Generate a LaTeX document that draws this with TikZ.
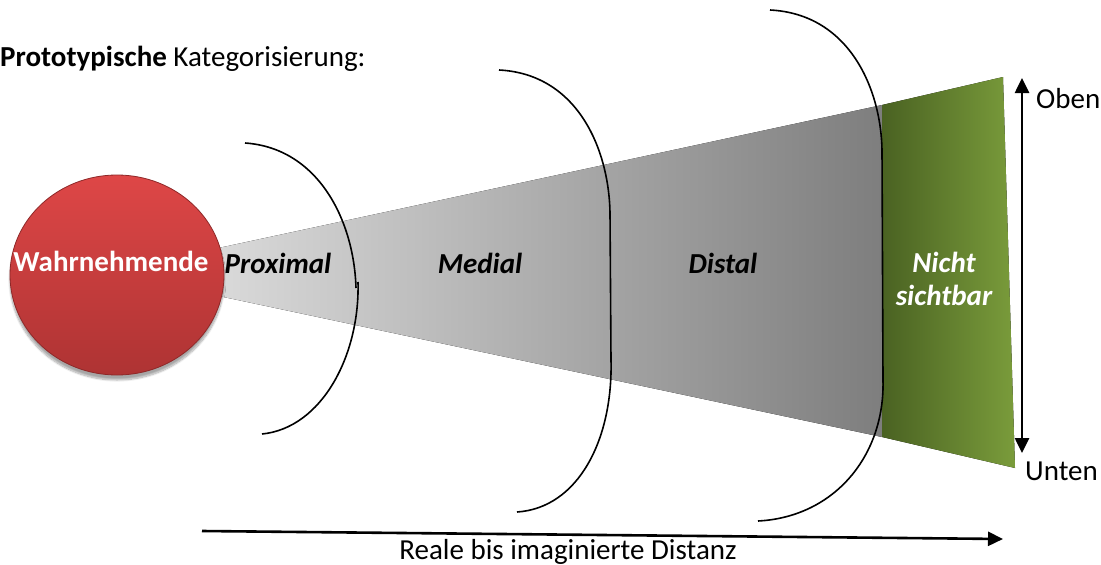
\documentclass[tikz,border=0pt]{standalone}
\usepackage{fontspec}
\setmainfont{Carlito}
\usetikzlibrary{arrows.meta,shapes.geometric,shadows.blur}

\definecolor{conelight}{HTML}{DCDCDC}
\definecolor{conedark}{HTML}{7E7E7E}
\definecolor{greendark}{HTML}{4A6222}
\definecolor{greenlight}{HTML}{7A9C3B}
\definecolor{redtop}{HTML}{DE4747}
\definecolor{redbot}{HTML}{AE3333}
\definecolor{redrim}{HTML}{8E2828}

\tikzset{bigtip/.tip={Triangle[length=15pt,width=14pt]}}

\begin{document}
\begin{tikzpicture}[x=1pt,y=-1pt,
  lbl/.style={inner sep=0pt, anchor=base, font=\fontsize{29}{33}\selectfont},
  zone/.style={lbl, font=\fontsize{29}{33}\selectfont\bfseries\itshape},
  brack/.style={draw=black, line width=1.6pt},
  bigarrow/.style={line width=2.6pt}]
\useasboundingbox (0,0) rectangle (1101,565);

% viewing cone, light near the observer and darker far away
\fill[left color=conelight, right color=conedark]
  (200,252) -- (882,105) -- (882,437) -- (200,292) -- cycle;

% region beyond sight
\fill[left color=greendark, right color=greenlight]
  (882,105) -- (1003,77) -- (1015,468) -- (882,437) -- cycle;

% zone boundaries
\draw[brack] (245,143) .. controls (318,148) and (354,220) .. (356,288);
\draw[brack] (358,282) .. controls (360,355) and (322,428) .. (262,434);

\draw[brack] (499,70) .. controls (578,74) and (609,150) .. (610,213)
  -- (611,360) .. controls (613,440) and (578,508) .. (517,512);

\draw[brack] (770,10) .. controls (850,14) and (881,90) .. (882,150)
  -- (883,380) .. controls (885,455) and (835,517) .. (758,521);

% observer
\node[ellipse, minimum width=214pt, minimum height=200pt, inner sep=0pt,
      top color=redtop, bottom color=redbot, draw=redrim, line width=0.8pt,
      blur shadow={shadow xshift=0pt, shadow yshift=-5pt, shadow blur steps=10, shadow opacity=35}]
  (person) at (117,275) {};
\node[lbl, font=\fontsize{29}{33}\selectfont\bfseries, text=white] (persontxt) at (111,271) {Wahrnehmende};

% zone labels
\node[zone] (prox) at (278,273) {Proximal};
\node[zone] (med) at (480,273) {Medial};
\node[zone] (dist) at (723,273) {Distal};
\node[zone, text=white] (nicht) at (944,272) {Nicht};
\node[zone, text=white] (sicht) at (944,305) {sichtbar};

% vertical extent
\coordinate (vtop) at (1022,78);
\coordinate (vbot) at (1022,453);
\draw[bigarrow, bigtip-bigtip] (vtop) -- (vbot);
\node[lbl, anchor=base west] (oben) at (1036,108) {Oben};
\node[lbl, anchor=base west] (unten) at (1025,480) {Unten};

% distance axis
\coordinate (dstart) at (202,531);
\coordinate (dend) at (1003,539);
\draw[bigarrow, -bigtip] (dstart) -- (dend);
\node[lbl] (axis) at (568,559) {Reale bis imaginierte Distanz};

% heading
\node[lbl, anchor=base west] (title) at (0,66) {\textbf{Prototypische} Kategorisierung:};
\end{tikzpicture}
\end{document}
